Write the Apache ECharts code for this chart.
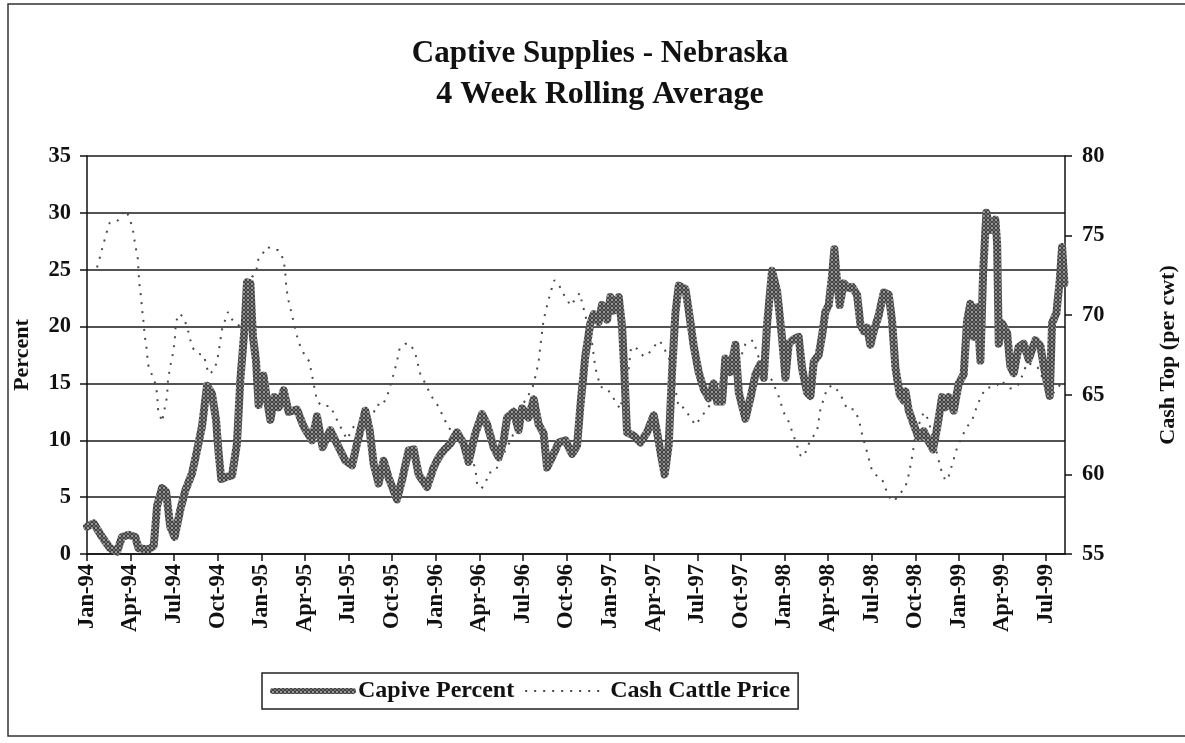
<!DOCTYPE html>
<html>
<head>
<meta charset="utf-8">
<script src="https://cdn.jsdelivr.net/npm/echarts@6/dist/echarts.min.js"></script>
<style>
html,body{margin:0;padding:0;background:#fff;}
#chart{width:1185px;height:743px;}
</style>
</head>
<body>
<div id="chart"></div>
<script>
// Quarter tick labels (every 3 months from Jan-94)
const quarterLabels = ['Jan-94','Apr-94','Jul-94','Oct-94','Jan-95','Apr-95','Jul-95','Oct-95',
  'Jan-96','Apr-96','Jul-96','Oct-96','Jan-97','Apr-97','Jul-97','Oct-97',
  'Jan-98','Apr-98','Jul-98','Oct-98','Jan-99','Apr-99','Jul-99'];

// Captive percent: position in months since Jan-94, value in percent
const captiveMonth = [0.00,0.46,1.03,1.60,2.06,2.41,2.87,3.32,3.55,4.24,4.59,4.82,5.16,5.44,5.73,6.03,6.42,6.77,7.23,7.57,
  7.91,8.26,8.60,8.88,9.06,9.24,9.64,9.98,10.32,10.55,10.85,11.01,11.24,11.42,11.63,11.81,12.15,12.39,12.62,12.91,
  13.19,13.53,13.87,14.45,14.91,15.49,15.83,16.21,16.74,17.20,17.78,18.24,18.58,19.15,19.45,19.73,20.07,20.41,20.76,21.33,
  21.68,22.13,22.48,22.82,23.40,23.85,24.20,24.54,25.00,25.46,25.92,26.26,26.72,27.18,27.53,27.98,28.33,28.67,28.91,29.36,
  29.70,29.94,30.39,30.74,31.08,31.42,31.66,32.00,32.46,32.92,33.38,33.72,33.95,34.29,34.64,34.87,35.21,35.44,35.79,36.02,
  36.24,36.59,36.82,36.98,37.16,37.62,38.08,38.54,39.00,39.23,39.46,39.75,40.03,40.26,40.49,40.72,41.18,41.40,41.75,42.09,
  42.44,42.78,43.12,43.36,43.70,43.93,44.27,44.62,44.85,45.31,45.65,46.00,46.34,46.57,46.80,47.14,47.49,47.83,48.06,48.29,
  48.63,48.97,49.21,49.55,49.78,50.01,50.35,50.58,50.81,51.04,51.27,51.43,51.62,51.80,52.07,52.42,52.65,52.99,53.22,53.45,
  53.68,53.91,54.14,54.48,54.83,55.17,55.40,55.63,55.93,56.20,56.32,56.55,56.89,57.23,57.58,57.92,58.22,58.50,58.84,59.07,
  59.30,59.64,59.99,60.33,60.56,60.79,61.02,61.25,61.48,61.67,61.89,62.17,62.51,62.63,62.74,62.97,63.32,63.54,63.77,64.11,
  64.46,64.80,65.26,65.61,65.84,66.07,66.25,66.41,66.71,66.94,67.10,67.26];
const captivePct = [2.4,2.7,1.5,0.5,0.2,1.5,1.7,1.5,0.5,0.4,0.7,4.2,5.8,5.5,2.4,1.5,3.9,5.6,7.1,9.1,
  11.2,14.8,14.1,11.8,8.8,6.6,6.8,6.9,9.7,15.3,20.0,23.9,23.8,19.1,17.0,13.1,15.7,13.5,11.8,13.8,
  12.9,14.4,12.5,12.7,11.2,10.0,12.1,9.4,10.9,9.7,8.2,7.8,9.7,12.6,10.9,7.9,6.2,8.2,6.7,4.8,
  6.5,9.1,9.2,7.0,5.9,7.6,8.5,9.1,9.7,10.7,9.7,8.1,10.6,12.3,11.4,9.4,8.5,10.0,12.0,12.5,
  10.9,12.8,12.0,13.6,11.4,10.6,7.6,8.5,9.8,10.0,8.8,9.5,13.0,17.4,20.3,21.1,20.4,21.9,20.6,22.6,
  21.4,22.6,20.0,15.9,10.7,10.4,9.8,10.7,12.2,10.7,9.0,7.0,9.6,16.0,21.2,23.6,23.3,21.5,18.3,16.0,
  14.5,13.7,15.0,13.4,13.4,17.2,16.0,18.4,14.2,11.9,13.7,15.8,16.7,15.5,20.2,24.9,23.1,19.0,15.5,18.5,
  18.9,19.1,16.3,14.2,13.9,16.9,17.5,19.2,21.3,21.9,24.5,26.8,23.9,21.9,23.8,23.4,23.5,22.8,20.2,19.6,
  19.9,18.4,19.6,21.0,23.0,22.8,20.5,16.4,14.0,13.5,14.3,12.6,11.4,10.2,10.8,9.9,9.2,11.1,13.8,12.9,
  13.8,12.6,15.0,15.8,20.5,22.0,19.1,21.7,17.0,24.9,30.0,28.5,29.4,27.3,18.5,20.3,19.4,16.5,15.9,18.2,
  18.5,17.1,18.8,18.3,16.5,15.0,13.9,20.3,21.2,24.1,27.0,23.8];

// Cash cattle price: position in months since Jan-94, value in $ per cwt
const priceMonth = [0.69,0.85,1.08,1.38,1.56,2.06,2.29,2.59,2.91,3.17,3.32,3.49,3.60,3.70,3.80,3.90,3.97,4.08,4.20,4.70,
  4.82,4.89,5.16,5.34,5.51,5.57,5.73,5.89,6.03,6.12,6.37,6.61,6.88,6.99,7.23,7.57,8.03,8.37,8.71,8.95,
  9.11,9.29,9.47,9.70,9.86,10.16,10.55,10.85,11.36,11.63,11.81,12.04,12.39,12.84,13.15,13.53,13.65,13.72,13.87,14.11,
  14.34,14.56,15.02,15.30,15.49,15.66,15.83,16.17,16.74,17.32,17.89,18.47,19.04,19.61,19.96,20.30,20.65,21.10,21.33,21.51,
  21.91,22.25,22.59,22.94,23.40,23.63,24.09,24.32,24.89,25.46,25.92,26.38,26.72,26.84,27.12,27.41,27.64,28.10,28.67,29.25,
  29.82,30.28,30.67,30.90,31.08,31.20,31.31,31.42,31.66,31.89,32.16,32.48,32.73,33.03,33.26,33.61,33.90,34.29,34.76,34.98,
  35.33,35.79,36.36,36.70,37.05,37.27,37.44,37.85,38.31,38.65,39.00,39.34,39.57,40.14,40.72,41.06,41.64,41.87,42.90,43.70,
  44.50,45.08,45.31,45.53,45.88,46.11,46.57,47.14,47.60,47.94,48.29,48.75,49.09,49.32,49.66,49.90,50.24,50.47,50.93,51.27,
  51.73,52.07,52.31,52.76,53.10,53.34,53.68,54.03,54.37,54.71,55.17,55.51,55.86,56.32,56.55,56.78,57.01,57.35,57.58,57.92,
  58.27,58.50,58.73,59.07,59.30,59.53,59.88,60.22,60.56,60.91,61.25,61.48,61.82,62.28,62.63,62.86,63.54,64.00,64.23,64.69,
  65.38,65.84,66.30,66.76,67.21];
const cashPrice = [73.0,73.5,74.3,75.3,75.8,75.9,76.1,76.6,76.2,75.3,74.4,73.6,72.0,71.3,70.3,69.5,68.7,68.1,66.9,65.7,
  65.1,64.1,63.3,64.1,64.9,65.9,66.8,67.5,68.3,69.6,70.1,69.9,69.3,68.9,68.0,67.6,67.5,66.3,66.5,67.1,
  68.0,69.1,69.6,70.2,69.9,69.5,69.3,69.7,72.4,72.7,73.6,73.8,74.3,74.1,74.1,73.5,72.6,71.7,70.9,70.0,
  69.1,68.3,67.4,67.1,66.2,65.4,64.6,64.3,64.3,63.2,62.2,63.2,62.8,63.6,64.4,64.3,64.9,66.3,67.1,67.9,
  68.2,68.2,67.6,66.3,65.5,65.0,64.4,64.0,62.9,62.6,61.8,61.2,60.4,59.4,59.1,59.4,60.1,60.2,61.3,62.3,
  64.2,64.8,65.5,66.3,67.1,68.1,68.9,69.7,70.6,71.4,72.2,71.9,71.4,71.0,70.6,71.0,71.4,70.0,68.2,66.7,
  65.5,65.4,64.6,64.1,65.9,66.6,68.0,67.9,67.4,67.6,68.0,68.4,68.2,67.1,64.2,64.2,63.4,63.1,64.4,65.9,
  67.1,67.6,68.2,68.4,68.4,67.6,66.6,65.9,64.9,63.9,63.3,62.1,61.2,61.1,61.9,62.3,62.7,64.1,65.4,65.6,
  65.2,64.6,64.1,64.1,63.5,62.5,61.4,60.2,59.9,59.7,58.6,58.3,58.7,59.2,60.0,61.1,62.5,63.4,63.9,63.4,
  61.9,61.3,60.4,59.6,59.9,60.6,61.7,62.4,63.0,63.4,64.3,64.8,65.4,65.5,65.6,65.9,65.4,65.5,65.9,67.0,
  66.8,65.9,64.9,65.4,65.9];

const FONT = '"Liberation Serif", "Times New Roman", serif';

// texture for the thick "chain of rings" line
function ringPattern() {
  const c = document.createElement('canvas');
  c.width = 4; c.height = 4;
  const g = c.getContext('2d');
  g.fillStyle = '#d2d2d2';
  g.fillRect(0, 0, 4, 4);
  g.strokeStyle = '#262626';
  g.lineWidth = 1.2;
  g.beginPath();
  g.arc(2, 2, 1.4, 0, Math.PI * 2);
  g.stroke();
  return c;
}
const ringTexture = ringPattern();

const chart = echarts.init(document.getElementById('chart'), null, {renderer: 'canvas'});

const captiveData = captiveMonth.map((m, i) => [m, captivePct[i]]);
const priceData = priceMonth.map((m, i) => [m, cashPrice[i]]);

const labelStyle = {fontFamily: FONT, fontWeight: 'bold', color: '#111'};

chart.setOption({
  animation: false,
  backgroundColor: '#fff',
  graphic: [
    {type: 'rect', shape: {x: 8, y: 4, width: 1185, height: 732},
      style: {fill: 'none', stroke: '#333', lineWidth: 1.5}, silent: true},
    {type: 'text', x: 600, y: 54,
      style: {text: 'Captive Supplies - Nebraska', font: 'bold 31px ' + FONT, fill: '#111',
        textAlign: 'center', textVerticalAlign: 'middle'}},
    {type: 'text', x: 600, y: 95,
      style: {text: '4 Week Rolling Average', font: 'bold 32px ' + FONT, fill: '#111',
        textAlign: 'center', textVerticalAlign: 'middle'}}
  ],
  grid: {left: 87, right: 120, top: 156, bottom: 189, containLabel: false, outerBoundsMode: 'none'},
  legend: {
    left: 262, top: 673,
    data: [
      {name: 'Capive Percent', lineStyle: {width: 6, color: {image: ringTexture, repeat: 'repeat'}}},
      {name: 'Cash Cattle Price'}
    ],
    itemWidth: 80, itemHeight: 14, itemGap: 10,
    padding: [6, 8],
    borderColor: '#222', borderWidth: 1.5,
    itemStyle: {opacity: 0},
    textStyle: {fontFamily: FONT, fontWeight: 'bold', fontSize: 24, color: '#111'}
  },
  xAxis: {
    type: 'value', min: 0, max: 67.3, interval: 3,
    axisLine: {show: true, onZero: false, lineStyle: {color: '#111', width: 1.5}},
    axisTick: {show: true, inside: false, length: 7, lineStyle: {color: '#111', width: 1.5}},
    splitLine: {show: false},
    axisLabel: Object.assign({
      rotate: 90, margin: 10, fontSize: 22.5,
      showMaxLabel: false,
      formatter: function (v) {
        const q = v / 3;
        return (Math.abs(q - Math.round(q)) < 1e-6 && quarterLabels[Math.round(q)]) ? quarterLabels[Math.round(q)] : '';
      }
    }, labelStyle)
  },
  yAxis: [
    {
      type: 'value', min: 0, max: 35, interval: 5, position: 'left',
      name: 'Percent', nameLocation: 'middle', nameGap: 54, nameRotate: 90,
      nameTextStyle: {fontFamily: FONT, fontWeight: 'bold', fontSize: 22, color: '#111'},
      axisLine: {show: true, lineStyle: {color: '#111', width: 1.5}},
      axisTick: {show: true, inside: false, length: 7, lineStyle: {color: '#111', width: 1.5}},
      axisLabel: Object.assign({fontSize: 22.5, margin: 16}, labelStyle),
      splitLine: {show: true, lineStyle: {color: '#1a1a1a', width: 1.5}}
    },
    {
      type: 'value', min: 55, max: 80, interval: 5, position: 'right',
      name: 'Cash Top (per cwt)', nameLocation: 'middle', nameGap: 92, nameRotate: 90,
      nameTextStyle: {fontFamily: FONT, fontWeight: 'bold', fontSize: 22, color: '#111'},
      axisLine: {show: true, lineStyle: {color: '#111', width: 1.5}},
      axisTick: {show: true, inside: false, length: 7, lineStyle: {color: '#111', width: 1.5}},
      axisLabel: Object.assign({fontSize: 22.5, margin: 17}, labelStyle),
      splitLine: {show: false}
    }
  ],
  series: [
    {
      name: 'Capive Percent', type: 'line', yAxisIndex: 0, z: 4,
      data: captiveData, symbol: 'none', smooth: false,
      lineStyle: {width: 8, color: {image: ringTexture, repeat: 'repeat'}, join: 'round', cap: 'round'},
      itemStyle: {color: '#555'}
    },
    {
      name: 'Cash Cattle Price', type: 'line', yAxisIndex: 1, z: 3,
      data: priceData, symbol: 'none', smooth: false,
      lineStyle: {width: 2, color: '#4a4a4a', type: [2, 7]},
      itemStyle: {color: '#555'}
    }
  ]
});
</script>
</body>
</html>
